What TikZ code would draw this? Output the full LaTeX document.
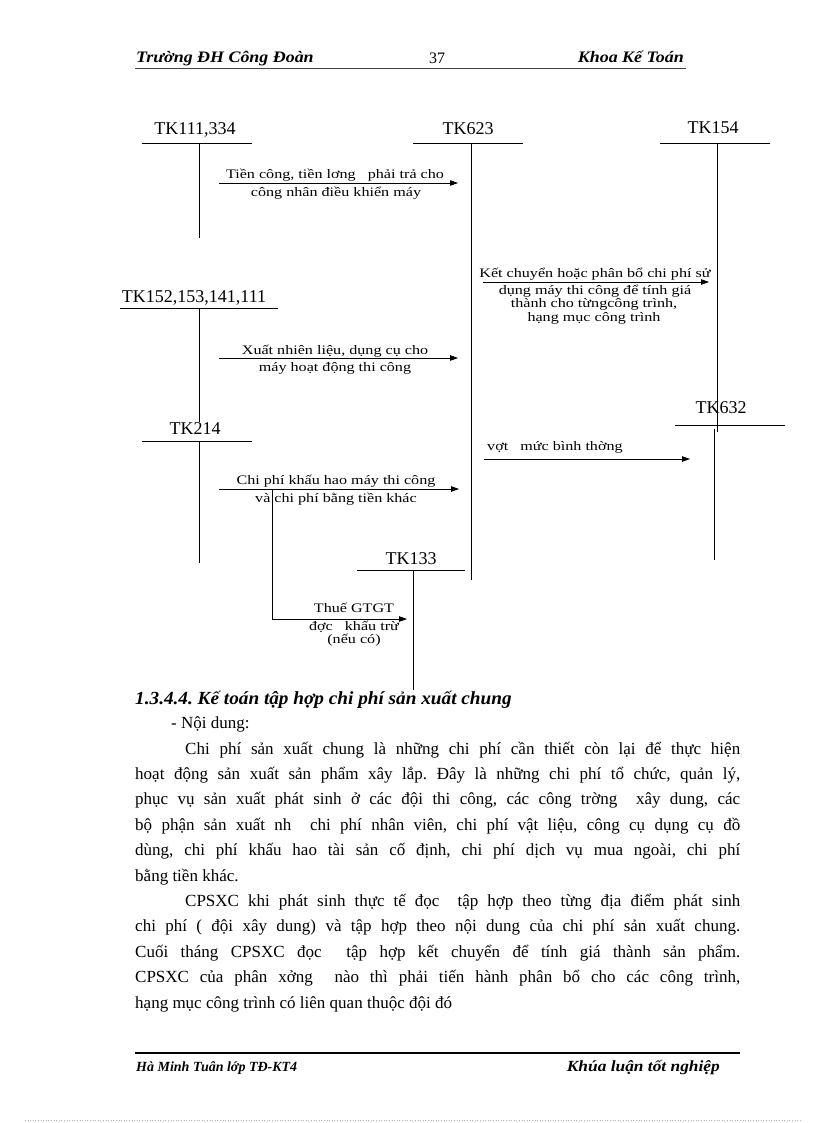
\documentclass[tikz,border=0pt]{standalone}
\usepackage{fontspec}
\setmainfont{Liberation Serif}
\newfontfamily\dfont[FakeStretch=1.24]{Liberation Serif}
\newfontfamily\hfont[FakeStretch=1.12]{Liberation Serif}
\newfontfamily\kfont[FakeStretch=1.04]{Liberation Serif}
\frenchspacing
\usetikzlibrary{arrows.meta}
\begin{document}
\begin{tikzpicture}[x=1pt,y=-1pt,
  acc/.style={font=\fontsize{18}{20}\selectfont, inner sep=0pt, anchor=base},
  lab/.style={font=\dfont\fontsize{13}{15}\selectfont, inner sep=0pt, anchor=base},
  labl/.style={lab, anchor=base west},
  tacc/.style={line width=0.9pt},
  flow/.style={line width=0.8pt, -{Triangle[length=8pt,width=5.5pt]}},
  body/.style={font=\fontsize{17}{20}\selectfont, inner sep=0pt, anchor=base west},
  hdr/.style={font=\hfont\bfseries\itshape\fontsize{16}{18}\selectfont, inner sep=0pt},
  rule/.style={line width=0.8pt, draw=black!75},
]
\useasboundingbox (0,0) rectangle (816,1123);

% ---------- header ----------
\node[hdr, anchor=base west] (hleft) at (136,63) {Trường ĐH Công Đoàn};
\node[font=\fontsize{16}{18}\selectfont, inner sep=0pt, anchor=base] (hnum) at (437,64) {37};
\node[hdr, anchor=base east] (hright) at (684,63) {Khoa Kế Toán};
\coordinate (hr1) at (135,68); \coordinate (hr2) at (686,68);
\draw[rule] (hr1) -- (hr2);

% ---------- T accounts ----------
\node[acc] (tk111) at (195,135) {TK111,334};
\coordinate (u111a) at (142,143); \coordinate (u111b) at (252,143);
\coordinate (v111t) at (199,143); \coordinate (v111b) at (199,238);
\draw[tacc] (u111a) -- (u111b); \draw[tacc] (v111t) -- (v111b);

\node[acc] (tk623) at (468,135) {TK623};
\coordinate (u623a) at (413,143); \coordinate (u623b) at (523,143);
\coordinate (v623t) at (471,143); \coordinate (v623b) at (471,580);
\draw[tacc] (u623a) -- (u623b); \draw[tacc] (v623t) -- (v623b);

\node[acc] (tk154) at (713,134) {TK154};
\coordinate (u154a) at (660,143); \coordinate (u154b) at (770,143);
\coordinate (v154t) at (717,143); \coordinate (v154b) at (717,432);
\draw[tacc] (u154a) -- (u154b); \draw[tacc] (v154t) -- (v154b);

\node[acc] (tk152) at (194,302) {TK152,153,141,111};
\coordinate (u152a) at (120,308); \coordinate (u152b) at (278,308);
\coordinate (v152t) at (199,308); \coordinate (v152b) at (199,422);
\draw[tacc] (u152a) -- (u152b); \draw[tacc] (v152t) -- (v152b);

\node[acc] (tk214) at (195,434) {TK214};
\coordinate (u214a) at (142,441); \coordinate (u214b) at (252,441);
\coordinate (v214t) at (199,441); \coordinate (v214b) at (199,563);
\draw[tacc] (u214a) -- (u214b); \draw[tacc] (v214t) -- (v214b);

\node[acc] (tk632) at (721,413) {TK632};
\coordinate (u632a) at (675,425); \coordinate (u632b) at (785,425);
\coordinate (v632t) at (714,429); \coordinate (v632b) at (714,560);
\draw[tacc] (u632a) -- (u632b); \draw[tacc] (v632t) -- (v632b);

\node[acc] (tk133) at (411,564) {TK133};
\coordinate (u133a) at (357,570); \coordinate (u133b) at (465,570);
\coordinate (v133t) at (413,570); \coordinate (v133b) at (413,690);
\draw[tacc] (u133a) -- (u133b); \draw[tacc] (v133t) -- (v133b);

% ---------- flows ----------
\coordinate (a1s) at (219,183); \coordinate (a1e) at (458,183);
\draw[flow] (a1s) -- (a1e);
\node[lab] (l1a) at (335,178.5) {Tiền công, tiền lơng~~~phải trả cho};
\node[lab] (l1b) at (336,196.5) {công nhân điều khiển máy};

\coordinate (a2s) at (483,282); \coordinate (a2e) at (709,282);
\draw[flow] (a2s) -- (a2e);
\node[lab] (l2a) at (595,277) {Kết chuyển hoặc phân bổ chi phí sử};
\node[lab] (l2b) at (595,294) {dụng máy thi công để tính giá};
\node[lab] (l2c) at (594,307.5) {thành cho từngcông trình,};
\node[lab] (l2d) at (594,321) {hạng mục công trình};

\coordinate (a3s) at (219,358); \coordinate (a3e) at (458,358);
\draw[flow] (a3s) -- (a3e);
\node[lab] (l3a) at (335,354) {Xuất nhiên liệu, dụng cụ cho};
\node[lab] (l3b) at (335,371) {máy hoạt động thi công};

\coordinate (a4s) at (484,459); \coordinate (a4e) at (690,459);
\draw[flow] (a4s) -- (a4e);
\node[labl] (l4a) at (487,450) {vợt~~~mức bình thờng};

\coordinate (a5s) at (219,489); \coordinate (a5e) at (459,489);
\draw[flow] (a5s) -- (a5e);
\node[lab] (l5a) at (336,484.5) {Chi phí khấu hao máy thi công};
\node[lab] (l5b) at (336,502) {và chi phí bằng tiền khác};

\coordinate (a6s) at (272,489); \coordinate (a6c) at (272,619); \coordinate (a6e) at (407,619);
\draw[flow] (a6s) -- (a6c) -- (a6e);
\node[lab] (l6a) at (354,612.5) {Thuế GTGT};
\node[lab] (l6b) at (354,630.5) {đợc~~~khấu trừ};
\node[lab] (l6c) at (354,643.5) {(nếu có)};

% ---------- body text ----------
\node[body, font=\kfont\bfseries\itshape\fontsize{18.5}{20}\selectfont] (head) at (135,704) {1.3.4.4. Kế toán tập hợp chi phí sản xuất chung};
\node[body] (nd) at (171,728) {- Nội dung:};
\node[body] (p1) at (185,754) {\hbox to 555pt{Chi phí sản xuất chung là những chi phí cần thiết còn lại để thực hiện}};
\node[body] (p2) at (135,779.4) {\hbox to 605pt{hoạt động sản xuất sản phẩm xây lắp. Đây là những chi phí tổ chức, quản lý,}};
\node[body] (p3) at (135,804.8) {\hbox to 605pt{phục vụ sản xuất phát sinh ở các đội thi công, các công trờng\ \ xây dung, các}};
\node[body] (p4) at (135,830.2) {\hbox to 605pt{bộ phận sản xuất nh\ \ chi phí nhân viên, chi phí vật liệu, công cụ dụng cụ đồ}};
\node[body] (p5) at (135,855.6) {\hbox to 605pt{dùng, chi phí khấu hao tài sản cố định, chi phí dịch vụ mua ngoài, chi phí}};
\node[body] (p6) at (135,881) {bằng tiền khác.};
\node[body] (q1) at (185,906.4) {\hbox to 555pt{CPSXC khi phát sinh thực tế đọc\ \ tập hợp theo từng địa điểm phát sinh}};
\node[body] (q2) at (135,931.8) {\hbox to 605pt{chi phí ( đội xây dung) và tập hợp theo nội dung của chi phí sản xuất chung.}};
\node[body] (q3) at (135,957.2) {\hbox to 605pt{Cuối tháng CPSXC đọc\ \ tập hợp kết chuyển để tính giá thành sản phẩm.}};
\node[body] (q4) at (135,982.6) {\hbox to 605pt{CPSXC của phân xởng\ \ nào thì phải tiến hành phân bổ cho các công trình,}};
\node[body] (q5) at (135,1008) {hạng mục công trình có liên quan thuộc đội đó};

% ---------- footer ----------
\coordinate (fr1) at (135,1053); \coordinate (fr2) at (740,1053);
\draw[line width=2.4pt] (fr1) -- (fr2);
\node[font=\bfseries\itshape\fontsize{14}{16}\selectfont, inner sep=0pt, anchor=base west] (fleft) at (136,1071) {Hà Minh Tuân lớp TĐ-KT4};
\node[font=\hfont\bfseries\itshape\fontsize{15.5}{18}\selectfont, inner sep=0pt, anchor=base east] (fright) at (720,1071) {Khúa luận tốt nghiệp};
\coordinate (d1) at (25,1120); \coordinate (d2) at (800,1120);
\draw[black!30, line width=0.6pt, dotted] (d1) -- (d2);
\end{tikzpicture}
\end{document}
